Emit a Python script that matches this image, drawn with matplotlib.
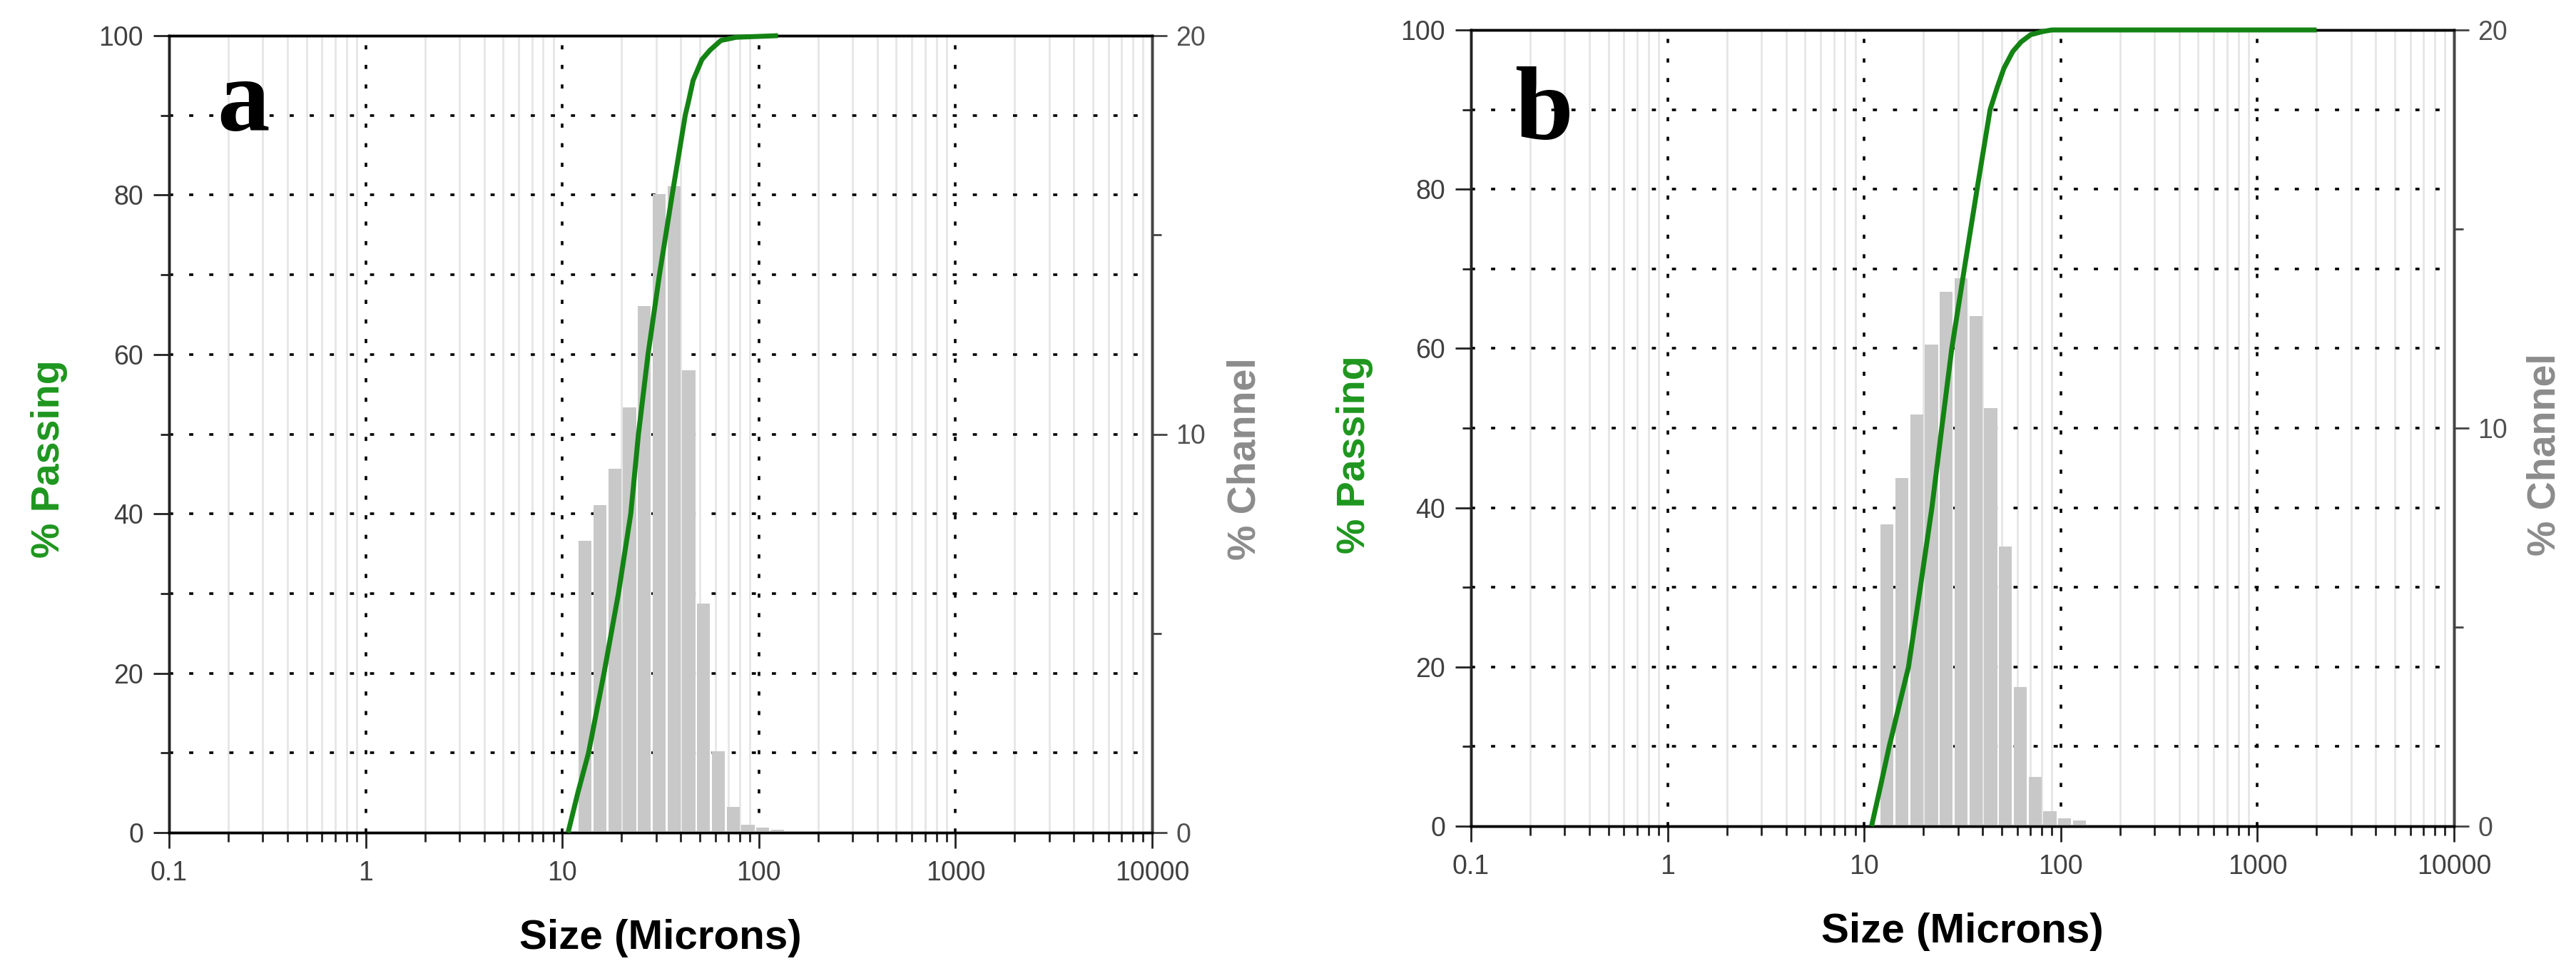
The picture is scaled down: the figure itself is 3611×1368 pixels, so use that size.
import matplotlib
matplotlib.use("Agg")
import matplotlib.pyplot as plt
from matplotlib.ticker import FixedLocator, FixedFormatter, NullFormatter, MultipleLocator

plt.rcParams['font.family'] = ['Liberation Sans', 'DejaVu Sans']

# channel sizes (microns) shared by both samples
channels = [13.08, 15.56, 18.50, 22.00, 26.16, 31.11, 37.00, 44.00,
            52.33, 62.23, 74.00, 88.00, 104.7, 124.5]

# % channel, sample a and b
chan_a = [7.33, 8.22, 9.14, 10.68, 13.22, 16.03, 16.23, 11.6,
          5.75, 2.05, 0.64, 0.2, 0.12, 0.08]
chan_b = [7.58, 8.74, 10.34, 12.10, 13.42, 13.77, 12.81, 10.51,
          7.03, 3.49, 1.23, 0.37, 0.2, 0.14]

# % passing curves
size_a = [10.7, 12.0, 13.6, 16.3, 19.3, 22.3, 24.4, 27.3, 31.2, 36.2,
          42.2, 44.0, 46.3, 51.3, 56.5, 64.1, 76.7, 125.0]
pass_a = [0, 5, 10, 20, 30, 40, 50, 60, 70, 80,
          90, 91.9, 94.4, 97.0, 98.2, 99.4, 99.8, 100]
size_b = [10.9, 12.1, 13.4, 16.8, 19.3, 22.1, 24.8, 27.9, 32.3, 37.5,
          43.7, 47.5, 51.4, 57.0, 62.8, 70.2, 80.7, 90.0, 2000.0]
pass_b = [0, 5, 10, 20, 30, 40, 50, 60, 70, 80,
          90, 92.8, 95.2, 97.3, 98.5, 99.4, 99.8, 100, 100]

xticks = [0.1, 1, 10, 100, 1000, 10000]
xticklabels = ['0.1', '1', '10', '100', '1000', '10000']
minor_x = [m * d for d in [0.1, 1, 10, 100, 1000] for m in range(2, 10)]

W, H = 3611, 1368
fig = plt.figure(figsize=(W / 100, H / 100), dpi=100)

green = '#138313'
label_green = '#1e961e'
tick_col = '#404040'
chan_col = '#8c8c8c'
bar_col = '#c8c8c8'
ratio = 2 ** 0.25
frac = 0.88


def px(x0, y_top, x1, y_bot):
    return [x0 / W, 1 - y_bot / H, (x1 - x0) / W, (y_bot - y_top) / H]


def panel(rect, chan, size, passing, letter, letter_xy, lab):
    ax = fig.add_axes(rect)
    ax.set_xscale('log')
    ax.set_xlim(0.1, 10000)
    ax.set_ylim(0, 100)

    for v in minor_x:
        ax.axvline(v, color='#e6e6e6', lw=2.0, zorder=0)
    for v in xticks[1:-1]:
        ax.axvline(v, color='black', lw=2.6, ls=(0, (1.6, 6.0)), zorder=0.5)
    for v in range(10, 100, 10):
        ax.axhline(v, color='black', lw=2.6, ls=(0, (1.6, 6.2)), zorder=0.5)

    for s in ax.spines.values():
        s.set_linewidth(2.5)

    # bars on right axis
    ax2 = ax.twinx()
    ax2.set_ylim(0, 20)
    lefts = [c / ratio ** (frac / 2) for c in channels]
    widths = [c * ratio ** (frac / 2) - l for c, l in zip(channels, lefts)]
    ax2.bar(lefts, chan, width=widths, align='edge', color=bar_col,
            edgecolor='none', zorder=1)
    ax2.set_yticks([0, 10, 20])
    ax2.yaxis.set_minor_locator(MultipleLocator(5))
    ax2.tick_params(axis='y', which='major', direction='out', length=15,
                    width=2, labelsize=27, labelcolor='#505050', color='#444444', pad=9)
    ax2.tick_params(axis='y', which='minor', direction='out', length=9,
                    width=2, color='#444444')
    for s in ax2.spines.values():
        s.set_linewidth(2.5)
    ax2.spines['right'].set_color('#444444')
    ax2.spines['left'].set_color('#222222')

    # passing curve on top
    ax3 = ax.twinx()
    ax3.set_ylim(0, 100)
    ax3.set_axis_off()
    ax3.plot(size, passing, color=green, lw=5, clip_on=False,
             solid_joinstyle='round', solid_capstyle='butt')

    # ticks set last so the twins do not reset them
    ax.set_xlim(0.1, 10000)
    ax.xaxis.set_major_locator(FixedLocator(xticks))
    ax.xaxis.set_major_formatter(FixedFormatter(xticklabels))
    ax.xaxis.set_minor_locator(FixedLocator(minor_x))
    ax.xaxis.set_minor_formatter(NullFormatter())
    ax.yaxis.set_major_locator(MultipleLocator(20))
    ax.yaxis.set_minor_locator(MultipleLocator(10))
    ax.tick_params(axis='both', which='major', direction='out', length=16,
                   width=2, labelsize=27, labelcolor=tick_col, color='#222222', pad=10)
    ax.tick_params(axis='both', which='minor', direction='out', length=9,
                   width=2, color='#222222')
    ax.tick_params(axis='x', which='major', pad=12)

    fig.text(letter_xy[0] / W, 1 - letter_xy[1] / H, letter,
             family=['Liberation Serif', 'DejaVu Serif'], fontweight='bold',
             fontsize=106, ha='left', va='baseline')

    (px_pass, px_chan, px_y, px_xl, px_xly) = lab
    fig.text(px_pass / W, 1 - px_y / H, '% Passing', rotation=90,
             color=label_green, fontsize=40, fontweight='bold',
             ha='center', va='center')
    fig.text(px_chan / W, 1 - px_y / H, '% Channel', rotation=90,
             color=chan_col, fontsize=40, fontweight='bold',
             ha='center', va='center')
    fig.text(px_xl / W, 1 - px_xly / H, 'Size (Microns)',
             color='black', fontsize=42, fontweight='bold',
             ha='center', va='center')
    return ax


panel(px(237, 50, 1615, 1167), chan_a, size_a, pass_a, 'a', (304, 182),
      (69, 1746, 643, 926, 1315))
panel(px(2062, 42, 3440, 1158), chan_b, size_b, pass_b, 'b', (2123, 195),
      (1899, 3568, 637, 2751, 1306))

fig.savefig('out.png', dpi=100)
